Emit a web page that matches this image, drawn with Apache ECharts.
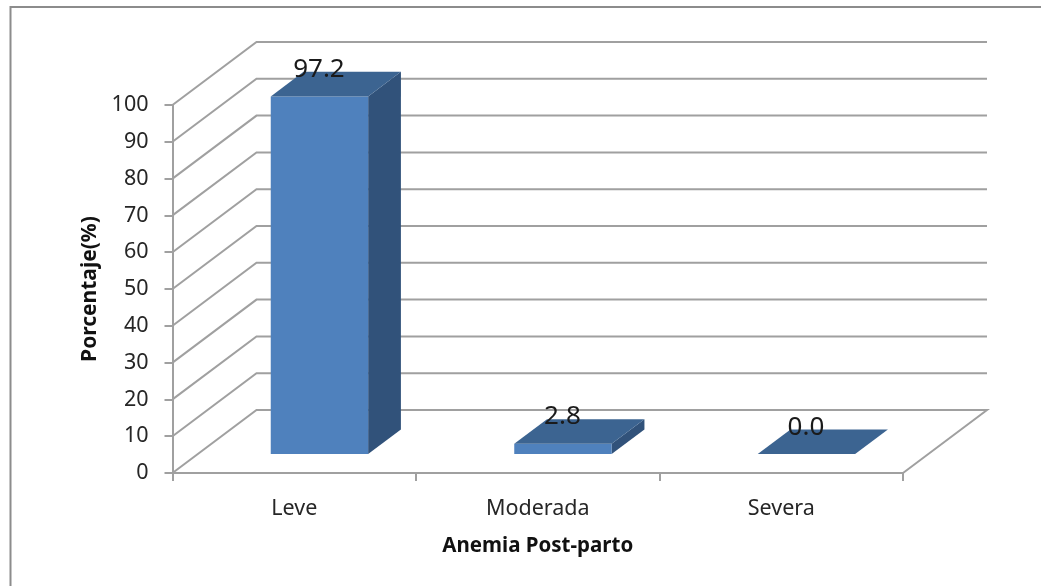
<!DOCTYPE html>
<html>
<head>
<meta charset="utf-8">
<style>html,body{margin:0;padding:0;background:#fff}#c{width:1041px;height:586px}</style>
<script src="https://cdn.jsdelivr.net/npm/echarts@6/dist/echarts.min.js"></script>
</head>
<body>
<div id="c"></div>
<script>
var categories = ['Leve', 'Moderada', 'Severa'];
var values = [97.2, 2.8, 0.0];
var yTicks = [0, 10, 20, 30, 40, 50, 60, 70, 80, 90, 100];

var FONT = '"Noto Sans", sans-serif';
var TEXT = '#262626';
var GRID = '#a0a0a0';
var WALL_DX = 84, WALL_DY = -63;      // full depth of the 3D floor
var GAP_D = 0.30, BAR_D = 0.39;       // bar position inside that depth
var GAP_WIDTH = 1.5;                  // gap / bar width

var chart = echarts.init(document.getElementById('c'), null, {renderer: 'canvas'});

function wallItem(params, api) {
  var band = api.size([1, 0])[0];
  var v = api.value(0);
  var yy = api.coord([0, v])[1];
  var x0 = api.coord([0, 0])[0] - band / 2;
  var x1 = x0 + band * categories.length;
  var line = {stroke: GRID, lineWidth: 2, fill: null};
  var pts = [[x0, yy], [x0 + WALL_DX, yy + WALL_DY], [x1 + WALL_DX, yy + WALL_DY]];
  if (v === 0) pts.push([x1, yy]);
  return {type: 'polyline', shape: {points: pts}, style: line, silent: true};
}

function barItem(params, api) {
  var i = api.value(0), v = api.value(1);
  var band = api.size([1, 0])[0];
  var w = band / (1 + GAP_WIDTH);
  var c = api.coord([i, 0]);
  var t = api.coord([i, v]);
  var ox = WALL_DX * GAP_D, oy = WALL_DY * GAP_D;
  var dx = WALL_DX * BAR_D, dy = WALL_DY * BAR_D;
  var l = c[0] - w / 2 + ox, r = c[0] + w / 2 + ox;
  var b = c[1] + oy, h = t[1] + oy;
  var kids = [];
  if (b - h > 0.01) {
    kids.push({type: 'polygon', shape: {points: [[r, h], [r + dx, h + dy], [r + dx, b + dy], [r, b]]},
      style: {fill: '#31527a'}});
    kids.push({type: 'rect', shape: {x: l, y: h, width: w, height: b - h}, style: {fill: '#4f81bd'}});
  }
  kids.push({type: 'polygon', shape: {points: [[l, h], [l + dx, h + dy], [r + dx, h + dy], [r, h]]},
    style: {fill: '#3c6491'}});
  kids.push({type: 'text', style: {
    text: v.toFixed(1), x: (l + r) / 2 - 0.5, y: h - 27, align: 'center', verticalAlign: 'middle',
    font: '26px ' + FONT, fill: '#1a1a1a'}, z2: 10});
  return {type: 'group', children: kids};
}

chart.setOption({
  animation: false,
  backgroundColor: '#ffffff',
  graphic: [{type: 'rect', shape: {x: 10.5, y: 7, width: 1040, height: 600},
    style: {fill: null, stroke: '#8c8c8c', lineWidth: 2}, silent: true}],
  grid: {left: 172.5, right: 138, top: 105, height: 368, containLabel: false},
  xAxis: {
    type: 'category', data: categories, boundaryGap: true,
    axisLine: {show: true, lineStyle: {color: GRID, width: 2}},
    axisTick: {show: true, alignWithLabel: false, length: 8, lineStyle: {color: GRID, width: 2}},
    axisLabel: {color: TEXT, fontFamily: FONT, fontSize: 21.5, margin: 25},
    name: 'Anemia Post-parto', nameLocation: 'middle', nameGap: 63,
    nameTextStyle: {color: '#111', fontFamily: FONT, fontWeight: 'bold', fontSize: 20.5},
    splitLine: {show: false}
  },
  yAxis: {
    type: 'value', min: 0, max: 100, interval: 10,
    axisLine: {show: true, lineStyle: {color: GRID, width: 2}},
    axisTick: {show: true, length: 8, lineStyle: {color: GRID, width: 2}},
    axisLabel: {color: TEXT, fontFamily: FONT, fontSize: 21.5, margin: 24, padding: [4, 0, 0, 0]},
    splitLine: {show: false},
    name: 'Porcentaje(%)', nameLocation: 'middle', nameGap: 72, nameRotate: 90,
    nameTextStyle: {color: '#111', fontFamily: FONT, fontWeight: 'bold', fontSize: 21}
  },
  series: [
    {type: 'custom', coordinateSystem: 'cartesian2d', clip: false, z: 1, silent: true,
     encode: {y: 0}, data: yTicks.map(function (v) { return [v]; }), renderItem: wallItem},
    {type: 'custom', coordinateSystem: 'cartesian2d', clip: false, z: 3, silent: true,
     encode: {x: 0, y: 1}, data: values.map(function (v, i) { return [i, v]; }), renderItem: barItem}
  ]
});
</script>
</body>
</html>
